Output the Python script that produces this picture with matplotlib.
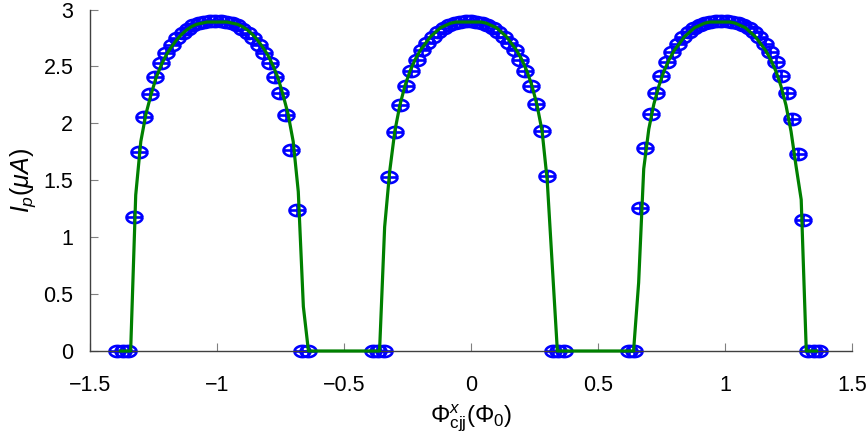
import matplotlib
matplotlib.use('Agg')
import matplotlib.pyplot as plt
import numpy as np
from matplotlib.path import Path

plt.rcParams['font.family'] = ['Liberation Sans', 'DejaVu Sans']
plt.rcParams['mathtext.fontset'] = 'custom'
plt.rcParams['mathtext.rm'] = 'Liberation Sans'
plt.rcParams['mathtext.it'] = 'Liberation Sans:italic'

# simulated points (blue markers), one block per arc
phi_arc1 = np.linspace(-1.3929, -0.6429, 36)
ip_arc1 = [0, 0, 0,
           1.18, 1.75, 2.06, 2.26, 2.41, 2.53, 2.62, 2.69, 2.75, 2.79, 2.83, 2.86, 2.88, 2.89, 2.90, 2.90,
           2.90, 2.89, 2.88, 2.86, 2.83, 2.79, 2.75, 2.69, 2.62, 2.53, 2.41, 2.27, 2.07, 1.77, 1.24,
           0, 0]

phi_arc2 = np.linspace(-0.3857, 0.3643, 36)
ip_arc2 = [0, 0, 0,
           1.53, 1.92, 2.16, 2.33, 2.46, 2.56, 2.64, 2.71, 2.76, 2.80, 2.84, 2.86, 2.88, 2.89, 2.90,
           2.90, 2.89, 2.88, 2.86, 2.84, 2.80, 2.76, 2.71, 2.64, 2.56, 2.46, 2.33, 2.17, 1.93, 1.54,
           0, 0, 0]

phi_arc3 = np.linspace(0.6214, 1.3714, 36)
ip_arc3 = [0, 0,
           1.26, 1.78, 2.08, 2.27, 2.42, 2.54, 2.63, 2.70, 2.76, 2.80, 2.84, 2.86, 2.88, 2.89, 2.90, 2.90,
           2.90, 2.89, 2.88, 2.86, 2.84, 2.80, 2.76, 2.70, 2.63, 2.54, 2.42, 2.27, 2.04, 1.73, 1.15,
           0, 0, 0]

# theory curve (green line)
phi_line = np.round(np.arange(-1.38, 1.37, 0.02), 2)
ip_line = ([0.0] * 3
           + [1.37, 1.84, 2.08, 2.25, 2.40, 2.51, 2.60, 2.67, 2.73, 2.78, 2.82, 2.85, 2.87, 2.88, 2.89, 2.89, 2.89,
              2.89, 2.89, 2.88, 2.87, 2.85, 2.82, 2.78, 2.73, 2.67, 2.60, 2.51, 2.40, 2.25, 2.08, 1.84, 1.40, 0.39]
           + [0.0] * 15
           + [1.09, 1.58, 1.93, 2.16, 2.33, 2.46, 2.56, 2.64, 2.70, 2.76, 2.80, 2.84, 2.86, 2.88, 2.89, 2.89, 2.89,
              2.89, 2.89, 2.89, 2.88, 2.86, 2.84, 2.80, 2.76, 2.70, 2.64, 2.56, 2.46, 2.33, 2.16, 1.93, 1.50, 0.75]
           + [0.0] * 16
           + [0.60, 1.60, 1.95, 2.17, 2.33, 2.46, 2.56, 2.64, 2.70, 2.76, 2.80, 2.84, 2.86, 2.88, 2.89, 2.89, 2.89,
              2.89, 2.89, 2.88, 2.86, 2.84, 2.80, 2.76, 2.70, 2.64, 2.56, 2.46, 2.33, 2.16, 1.93, 1.62, 1.33]
           + [0.0] * 3)

# marker: flattened circle with a plus inside
t = np.linspace(0, 2 * np.pi, 41)
ry = 0.7
verts = list(zip(np.cos(t), ry * np.sin(t)))
codes = [Path.MOVETO] + [Path.LINETO] * (len(verts) - 1)
verts += [(-1, 0), (1, 0), (0, -ry), (0, ry)]
codes += [Path.MOVETO, Path.LINETO, Path.MOVETO, Path.LINETO]
oplus = Path(verts, codes)

fig = plt.figure(figsize=(8.67, 4.43), dpi=100)
ax = fig.add_axes([90 / 867, 92 / 443, 762 / 867, 341.5 / 443])

for px, py in [(phi_arc1, ip_arc1), (phi_arc2, ip_arc2), (phi_arc3, ip_arc3)]:
    ax.plot(px, py, linestyle='none', marker=oplus, markersize=11.5,
            markerfacecolor='none', markeredgecolor='#0000ff', markeredgewidth=1.9,
            clip_on=False, zorder=2)

ax.plot(phi_line, ip_line, color='#008000', linewidth=2.3, zorder=3, clip_on=False)

ax.set_xlim(-1.5, 1.5)
ax.set_ylim(0, 3)
ax.set_xticks([-1.5, -1, -0.5, 0, 0.5, 1, 1.5])
ax.set_xticklabels(['\u22121.5', '\u22121', '\u22120.5', '0', '0.5', '1', '1.5'])
ax.set_yticks([0, 0.5, 1, 1.5, 2, 2.5, 3])
ax.set_yticklabels(['0', '0.5', '1', '1.5', '2', '2.5', '3'])

ax.spines['top'].set_visible(False)
ax.spines['right'].set_visible(False)
for s in ['left', 'bottom']:
    ax.spines[s].set_color('#404040')
    ax.spines[s].set_linewidth(1.0)
ax.tick_params(direction='in', length=6, width=0.8, color='#808080',
               labelsize=15.5, labelcolor='black')
ax.tick_params(axis='x', pad=17)
ax.tick_params(axis='y', pad=12)

ax.set_xlabel(r'$\Phi^{x}_{\mathrm{cjj}}(\Phi_0)$', fontsize=17.5, labelpad=5)
ax.set_ylabel(r'$I_p(\mu A)$', fontsize=18, labelpad=4)

fig.savefig('out.png', dpi=100)
